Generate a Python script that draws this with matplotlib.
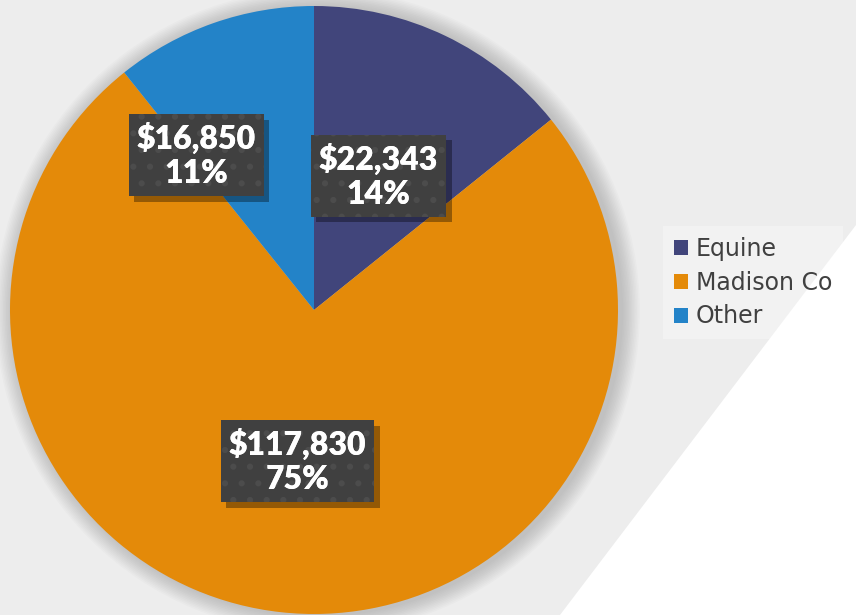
import numpy as np
import matplotlib
matplotlib.use('Agg')
import matplotlib.pyplot as plt
import matplotlib.patheffects as pe
from matplotlib.patches import Polygon, Circle

# datos del grafico
categorias = ['Equine', 'Madison Co', 'Other']
valores = [22343, 117830, 16850]
colores = ['#41457b', '#e48a09', '#2383c8']
etiquetas = ['$22,343\n14%', '$117,830\n75%', '$16,850\n11%']

plt.rcParams['font.family'] = ['Lato', 'DejaVu Sans']
plt.rcParams['hatch.linewidth'] = 2.0

fig = plt.figure(figsize=(8.56, 6.15), dpi=100, facecolor='#ededed')

# triangulo blanco del fondo
fig.patches.append(Polygon([[560/856, 0], [1, 1 - 225/615], [1, 0]],
                           closed=True, transform=fig.transFigure,
                           facecolor='white', edgecolor='none', zorder=0))

ax = fig.add_axes([10/856, 1/615, 608/856, 608/615])
ax.set_facecolor('none')

# sombra difusa del pastel
for i in range(12):
    ax.add_patch(Circle((0.012, -0.004), 1.0 + 0.005*(i+1), color='#707070',
                        alpha=0.03, lw=0, zorder=0, clip_on=False))

wedges, _ = ax.pie(valores, colors=colores, startangle=90, counterclock=False,
                   radius=1.0, wedgeprops=dict(linewidth=0))
for w in wedges:
    w.set_zorder(2)
    w.set_clip_on(False)
ax.set_xlim(-1, 1)
ax.set_ylim(-1, 1)
ax.set_aspect('equal')
ax.axis('off')

# posicion de etiquetas (distancia y giro extra por rebanada)
dist = [0.49, 0.50, 0.64]
giro = [0, 0, 18]
for w, txt, d, g in zip(wedges, etiquetas, dist, giro):
    ang = np.deg2rad((w.theta1 + w.theta2) / 2 + g)
    x, y = d*np.cos(ang), d*np.sin(ang)
    # caja con sombra
    t = ax.text(x, y, txt, ha='center', va='center', color='white',
                fontsize=23, fontweight='heavy', linespacing=1.2, zorder=5,
                bbox=dict(boxstyle='square,pad=0.25', facecolor='#404040',
                          edgecolor='none', linewidth=0))
    t.get_bbox_patch().set_path_effects([
        pe.SimplePatchShadow(offset=(4, -4), shadow_rgbFace='#000000', alpha=0.35),
        pe.Normal()])
    # puntos de la textura encima
    ax.text(x, y, txt, ha='center', va='center', color='white',
            fontsize=23, fontweight='heavy', linespacing=1.2, zorder=6,
            bbox=dict(boxstyle='square,pad=0.25', facecolor='none',
                      edgecolor='#4c4c4c', linewidth=0, hatch='.'))

leg = fig.legend(wedges, categorias, loc='upper left',
                 bbox_to_anchor=(663/856, 1 - 226/615), frameon=True,
                 prop={'family': 'DejaVu Sans', 'size': 17},
                 handlelength=0.6, handleheight=0.6,
                 handletextpad=0.35, labelspacing=0.42, borderpad=0.45,
                 borderaxespad=0, labelcolor='#404040', fancybox=False)
leg.get_frame().set_facecolor('white')
leg.get_frame().set_alpha(0.3)
leg.get_frame().set_linewidth(0)

plt.savefig('out.png', dpi=100, facecolor=fig.get_facecolor())
